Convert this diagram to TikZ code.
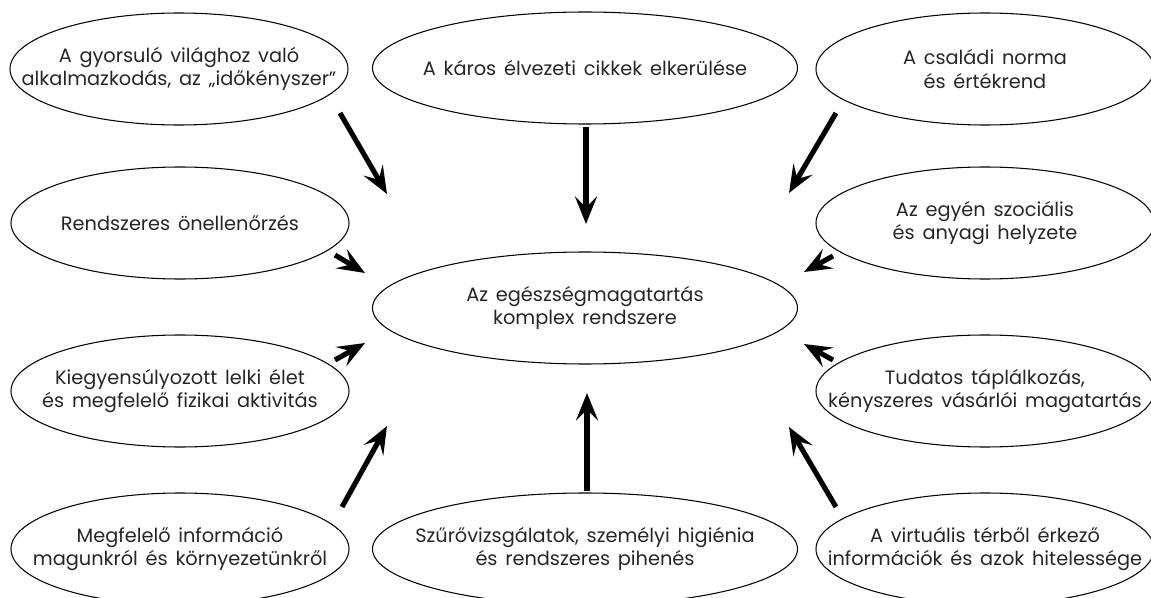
\documentclass[tikz,border=0pt]{standalone}
\usepackage{fontspec}
\setmainfont{Poppins}[WordSpace=1.5]
\usetikzlibrary{shapes.geometric,arrows.meta}

\begin{document}
\begin{tikzpicture}[
    bubble/.style={ellipse, draw, line width=0.6pt, minimum width=6.76cm, minimum height=2.24cm, inner sep=0pt},
    widebubble/.style={bubble, minimum width=8.5cm},
    txt/.style={align=center, font=\fontsize{11}{13.5}\selectfont, text=black!85},
    arrow/.style={-{Stealth[length=0.55cm, width=0.44cm, inset=0.22cm]}, line width=2.9pt}
]
\useasboundingbox (0,0) rectangle (23.02,11.94);

% Centre
\node[widebubble] (core) at (11.70,5.78) {};
\node[txt] (core-t) at (core) {Az egészségmagatartás\\komplex rendszere};

% Top row
\node[bubble] (tl) at (3.58,10.56) {};
\node[txt] (tl-t) at (tl) {A gyorsuló világhoz való\\alkalmazkodás, az „időkényszer”};
\node[widebubble] (tm) at (11.70,10.58) {};
\node[txt] (tm-t) at (tm) {A káros élvezeti cikkek elkerülése};
\node[bubble] (tr) at (19.70,10.56) {};
\node[txt] (tr-t) at (tr) {A családi norma\\és értékrend};

% Middle rows
\node[bubble] (ml) at (3.60,7.48) {};
\node[txt] (ml-t) at (ml) {Rendszeres önellenőrzés};
\node[bubble] (mr) at (19.70,7.48) {};
\node[txt] (mr-t) at (mr) {Az egyén szociális\\és anyagi helyzete};
\node[bubble] (ll) at (3.60,4.12) {};
\node[txt] (ll-t) at (ll) {Kiegyensúlyozott lelki élet\\és megfelelő fizikai aktivitás};
\node[bubble] (lr) at (19.70,4.12) {};
\node[txt] (lr-t) at (lr) {Tudatos táplálkozás,\\kényszeres vásárlói magatartás};

% Bottom row
\node[bubble] (bl) at (3.60,0.96) {};
\node[txt] (bl-t) at (bl) {Megfelelő információ\\magunkról és környezetünkről};
\node[widebubble] (bm) at (11.70,0.96) {};
\node[txt] (bm-t) at (bm) {Szűrővizsgálatok, személyi higiénia\\és rendszeres pihenés};
\node[bubble] (br) at (19.70,0.96) {};
\node[txt] (br-t) at (br) {A virtuális térből érkező\\információk és azok hitelessége};

% Arrow ends
\coordinate (tl-s) at (6.80,9.68);   \coordinate (tl-e) at (7.74,8.06);
\coordinate (tm-s) at (11.72,9.40);  \coordinate (tm-e) at (11.72,7.46);
\coordinate (tr-s) at (16.72,9.68);  \coordinate (tr-e) at (15.78,8.08);
\coordinate (ml-s) at (6.70,6.84);   \coordinate (ml-e) at (7.30,6.48);
\coordinate (mr-s) at (16.66,6.82);  \coordinate (mr-e) at (16.08,6.50);
\coordinate (ll-s) at (6.70,4.74);   \coordinate (ll-e) at (7.30,5.08);
\coordinate (lr-s) at (16.66,4.74);  \coordinate (lr-e) at (16.08,5.06);
\coordinate (bl-s) at (6.84,1.80);   \coordinate (bl-e) at (7.74,3.42);
\coordinate (bm-s) at (11.74,2.12);  \coordinate (bm-e) at (11.74,4.08);
\coordinate (br-s) at (16.72,1.80);  \coordinate (br-e) at (15.78,3.40);

% Arrows into the centre
\foreach \n in {tl,tm,tr,ml,mr,ll,lr,bl,bm,br}
    \draw[arrow] (\n-s) -- (\n-e);

\end{tikzpicture}
\end{document}
